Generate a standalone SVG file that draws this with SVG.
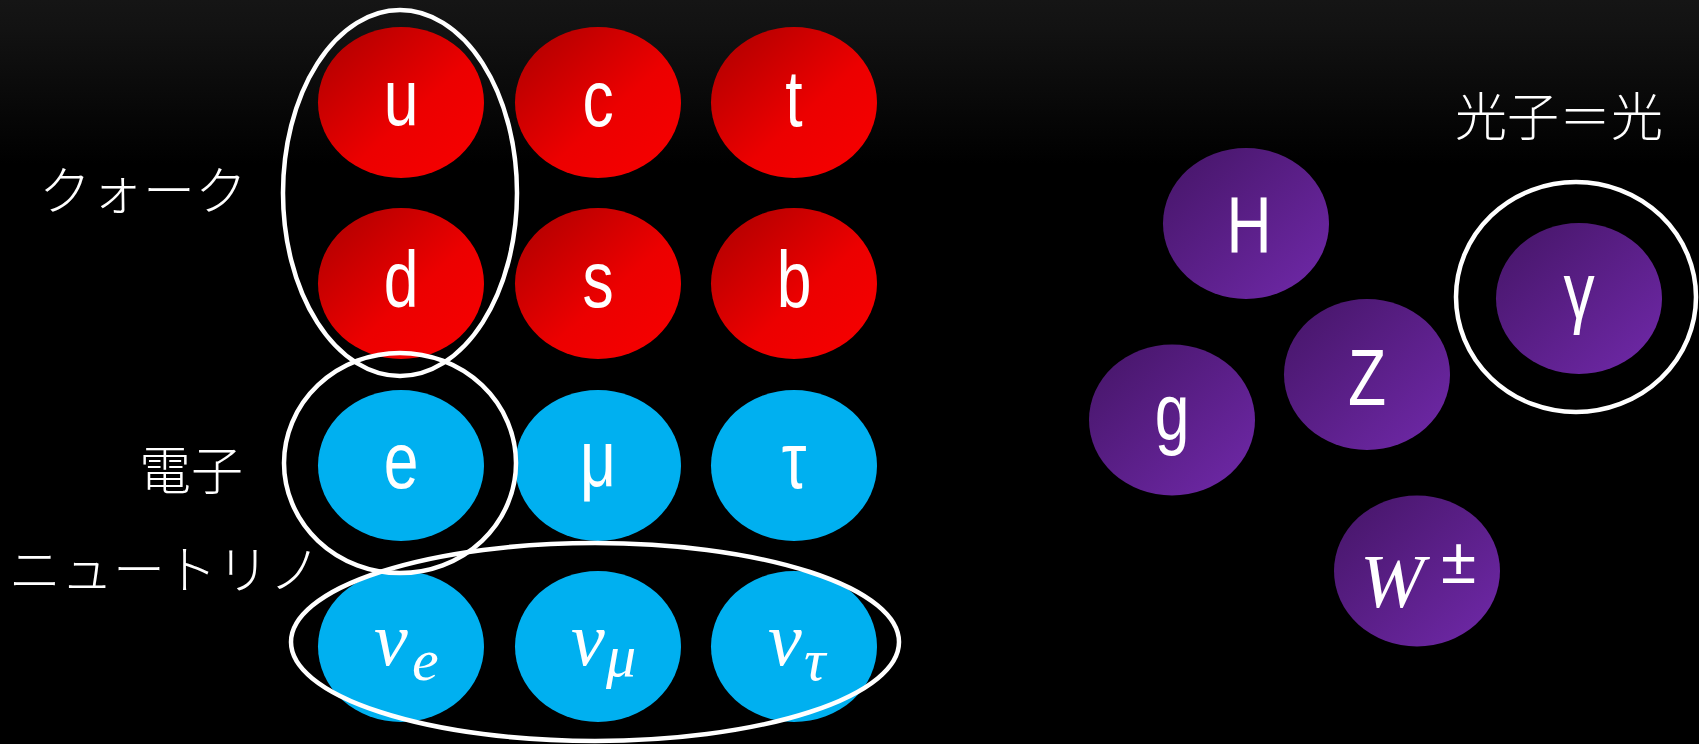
<svg xmlns="http://www.w3.org/2000/svg" width="1699" height="744" viewBox="0 0 1699 744">
<defs>
<linearGradient id="bg" x1="0" y1="0" x2="0" y2="1">
<stop offset="0" stop-color="#151515"/>
<stop offset="0.04" stop-color="#121212"/>
<stop offset="0.22" stop-color="#000"/>
</linearGradient>
<linearGradient id="red" x1="0.15" y1="0.15" x2="0.85" y2="0.85">
<stop offset="0" stop-color="#bb0000"/>
<stop offset="0.6" stop-color="#ec0000"/>
<stop offset="1" stop-color="#f40000"/>
</linearGradient>
<linearGradient id="pur" x1="0.15" y1="0.15" x2="0.85" y2="0.85">
<stop offset="0" stop-color="#4b1870"/>
<stop offset="1" stop-color="#6a26a0"/>
</linearGradient>
<style>
.r{fill:url(#red)}
.b{fill:#00b0f0}
.p{fill:url(#pur)}
.l{font-family:"Liberation Sans",Arial,sans-serif;font-size:80px;fill:#fff;text-anchor:middle}
.m{font-family:"Liberation Serif","Times New Roman",serif;font-style:italic;fill:#fff}
.j{font-family:"Noto Sans CJK JP","Noto Sans",sans-serif;font-weight:300;font-size:52px;fill:#fff}
.ring{fill:none;stroke:#fff;stroke-width:4.5}
</style>
</defs>
<rect width="1699" height="744" fill="url(#bg)"/>

<g id="quarks">
<g id="node-u"><ellipse class="r" cx="401" cy="102.5" rx="83" ry="75.5"/><text class="l" transform="translate(401,125) scale(0.78,1)">u</text></g>
<g id="node-c"><ellipse class="r" cx="598" cy="102.5" rx="83" ry="75.5"/><text class="l" transform="translate(598,126) scale(0.78,1)">c</text></g>
<g id="node-t"><ellipse class="r" cx="794" cy="102.5" rx="83" ry="75.5"/><text class="l" transform="translate(794,126) scale(0.78,1)">t</text></g>
<g id="node-d"><ellipse class="r" cx="401" cy="283.5" rx="83" ry="75.5"/><text class="l" transform="translate(401,307) scale(0.78,1)">d</text></g>
<g id="node-s"><ellipse class="r" cx="598" cy="283.5" rx="83" ry="75.5"/><text class="l" transform="translate(598,307) scale(0.78,1)">s</text></g>
<g id="node-b"><ellipse class="r" cx="794" cy="283.5" rx="83" ry="75.5"/><text class="l" transform="translate(794,307) scale(0.78,1)">b</text></g>
</g>

<g id="leptons">
<g id="node-e"><ellipse class="b" cx="401" cy="465.5" rx="83" ry="75.5"/><text class="l" transform="translate(401,488) scale(0.78,1)">e</text></g>
<g id="node-mu"><ellipse class="b" cx="598" cy="465.5" rx="83" ry="75.5"/><text class="l" transform="translate(598,486) scale(0.78,1)">μ</text></g>
<g id="node-tau"><ellipse class="b" cx="794" cy="465.5" rx="83" ry="75.5"/><text class="l" transform="translate(794,488) scale(0.78,1)">τ</text></g>
<g id="node-nue"><ellipse class="b" cx="401" cy="646.5" rx="83" ry="75.5"/><text class="m" font-size="76" x="374" y="665">ν</text><text class="m" font-size="60" x="412" y="680">e</text></g>
<g id="node-numu"><ellipse class="b" cx="598" cy="646.5" rx="83" ry="75.5"/><text class="m" font-size="76" x="571" y="665">ν</text><text class="m" font-size="60" x="606" y="676">μ</text></g>
<g id="node-nutau"><ellipse class="b" cx="794" cy="646.5" rx="83" ry="75.5"/><text class="m" font-size="76" x="768" y="665">ν</text><text class="m" font-size="60" x="804" y="680">τ</text></g>
</g>

<g id="bosons">
<g id="node-H"><ellipse class="p" cx="1246" cy="223.5" rx="83" ry="75.5"/><text class="l" transform="translate(1249,252) scale(0.78,1)">H</text></g>
<g id="node-Z"><ellipse class="p" cx="1367" cy="374.5" rx="83" ry="75.5"/><text class="l" transform="translate(1367,405) scale(0.78,1)">Z</text></g>
<g id="node-g"><ellipse class="p" cx="1172" cy="420" rx="83" ry="75.5"/><text class="l" transform="translate(1172,439) scale(0.78,1)">g</text></g>
<g id="node-gamma"><ellipse class="p" cx="1579" cy="298.5" rx="83" ry="75.5"/><text class="l" transform="translate(1579,318) scale(0.78,1)">γ</text></g>
<g id="node-W"><ellipse class="p" cx="1417" cy="571" rx="83" ry="75.5"/><text class="m" font-size="77" x="1360" y="607">W</text><text font-family="Liberation Sans,Arial,sans-serif" font-size="64" fill="#fff" x="1441" y="583">±</text></g>
</g>

<g id="groupings">
<ellipse class="ring" cx="400" cy="193" rx="117" ry="183"/>
<ellipse class="ring" cx="400" cy="463" rx="116" ry="110"/>
<ellipse class="ring" cx="595" cy="642" rx="304" ry="99"/>
<ellipse class="ring" cx="1576" cy="297" rx="120" ry="115"/>
</g>

<g id="labels">
<text class="j" x="39" y="210">クォーク</text>
<text class="j" x="139" y="490">電子</text>
<text class="j" x="9" y="589">ニュートリノ</text>
<text class="j" x="1455" y="136">光子＝光</text>
</g>
</svg>
